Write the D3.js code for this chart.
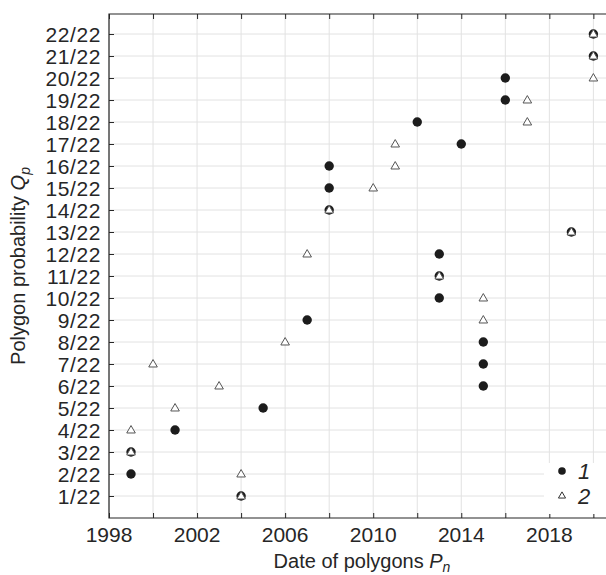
<!DOCTYPE html>
<html>
<head>
<meta charset="utf-8">
<script src="https://cdn.jsdelivr.net/npm/d3@7"></script>
<style>
 body { margin: 0; background: #fff; }
 text { font-family: "Liberation Sans", Arial, sans-serif; fill: #262626; }
</style>
</head>
<body>
<svg id="chart" width="606" height="575"></svg>
<script>
// probability levels k/22 (k = 1..22)
var levels = d3.range(1, 23);
// series 1 (filled circles): year for each level k
var years1 = [2004, 1999, 1999, 2001, 2005, 2015, 2015, 2015, 2007, 2013, 2013,
              2013, 2019, 2008, 2008, 2008, 2014, 2012, 2016, 2016, 2020, 2020];
// series 2 (open triangles): year for each level k
var years2 = [2004, 2004, 1999, 1999, 2001, 2003, 2000, 2006, 2015, 2015, 2013,
              2007, 2019, 2008, 2010, 2011, 2011, 2017, 2017, 2020, 2020, 2020];
var xTicks = d3.range(1998, 2021, 2);
var xLabels = [1998, 2002, 2006, 2010, 2014, 2018];
var seriesNames = ['1', '2'];

var svg = d3.select('#chart');
// plot box (note: 'top' is reserved on window, so use plot* names)
var plotLeft = 109, plotRight = 611, plotTop = 14, plotBottom = 518;

var x = d3.scaleLinear().domain([1998, 2020.8]).range([plotLeft, plotRight]);
var y = d3.scaleLinear().domain([0, 22.91]).range([plotBottom, plotTop]);

var axisColor = '#262626';
var gridColor = '#e2e2e2';

// grid
var grid = svg.append('g').attr('class', 'grid');
grid.selectAll('.vgrid').data(xTicks).enter().append('line')
 .attr('x1', function(d) { return x(d); })
 .attr('x2', function(d) { return x(d); })
 .attr('y1', plotTop).attr('y2', plotBottom)
 .style('stroke', gridColor).style('stroke-width', '1px');
grid.selectAll('.hgrid').data(levels).enter().append('line')
 .attr('x1', plotLeft).attr('x2', plotRight)
 .attr('y1', function(d) { return y(d); })
 .attr('y2', function(d) { return y(d); })
 .style('stroke', gridColor).style('stroke-width', '1px');

// axes (ticks pointing inwards, box style)
var xBottom = svg.append('g').attr('transform', 'translate(0,' + plotBottom + ')')
 .call(d3.axisTop(x).tickValues(xTicks).tickSize(5).tickFormat(''));
var xTop = svg.append('g').attr('transform', 'translate(0,' + plotTop + ')')
 .call(d3.axisBottom(x).tickValues(xTicks).tickSize(5).tickFormat(''));
var yLeft = svg.append('g').attr('transform', 'translate(' + plotLeft + ',0)')
 .call(d3.axisRight(y).tickValues(levels).tickSize(5).tickFormat(''));
[xBottom, xTop, yLeft].forEach(function(a) {
 a.selectAll('path').remove();
 a.selectAll('line').style('stroke', axisColor).style('stroke-width', '1px');
});
svg.append('path')
 .attr('d', 'M' + plotRight + ',' + plotTop + 'H' + plotLeft + 'V' + plotBottom + 'H' + plotRight)
 .style('fill', 'none').style('stroke', axisColor).style('stroke-width', '1.2px');

// tick labels
svg.selectAll('.xlab').data(xLabels).enter().append('text')
 .attr('x', function(d) { return x(d); })
 .attr('y', 542)
 .attr('text-anchor', 'middle')
 .attr('font-size', 21)
 .text(function(d) { return d; });
svg.selectAll('.ylab').data(levels).enter().append('text')
 .attr('x', 101)
 .attr('y', function(d) { return y(d); })
 .attr('dy', '0.36em')
 .attr('text-anchor', 'end')
 .attr('font-size', 21)
 .attr('letter-spacing', '0.6px')
 .text(function(d) { return d + '/22'; });

// axis titles
var xt = svg.append('text')
 .attr('x', 362).attr('y', 568)
 .attr('text-anchor', 'middle')
 .attr('font-size', 20);
xt.append('tspan').text('Date of polygons ');
xt.append('tspan').attr('font-style', 'italic').text('P');
xt.append('tspan').attr('font-style', 'italic').attr('font-size', 14).attr('dy', 4).text('n');

var yt = svg.append('text')
 .attr('transform', 'translate(25,' + ((plotTop + plotBottom) / 2) + ') rotate(-90)')
 .attr('text-anchor', 'middle')
 .attr('font-size', 20);
yt.append('tspan').text('Polygon probability ');
yt.append('tspan').attr('font-style', 'italic').text('Q');
yt.append('tspan').attr('font-style', 'italic').attr('font-size', 14).attr('dy', 5).text('p');

// markers
var tri = d3.symbol().type(d3.symbolTriangle);
var pts = svg.append('g').attr('class', 'points');
pts.selectAll('.s1').data(levels).enter().append('circle')
 .attr('cx', function(d, i) { return x(years1[i]); })
 .attr('cy', function(d) { return y(d); })
 .attr('r', 4.7)
 .style('fill', '#1c1c1c');
pts.selectAll('.s2').data(levels).enter().append('path')
 .attr('d', tri.size(32)())
 .attr('transform', function(d, i) { return 'translate(' + x(years2[i]) + ',' + (y(d) + 0.5) + ')'; })
 .style('fill', '#fff')
 .style('stroke', '#555')
 .style('stroke-width', '1px');

// legend
var lg = svg.append('g').attr('class', 'legend');
lg.append('rect')
 .attr('x', 544).attr('y', 463).attr('width', 70).attr('height', 51)
 .style('fill', '#fff');
lg.append('circle').attr('cx', 562).attr('cy', 471).attr('r', 3.8).style('fill', '#1c1c1c');
lg.append('path').attr('d', tri.size(22)())
 .attr('transform', 'translate(562,496)')
 .style('fill', '#fff').style('stroke', '#333').style('stroke-width', '1px');
lg.selectAll('.ltxt').data(seriesNames).enter().append('text')
 .attr('x', 578)
 .attr('y', function(d, i) { return 471 + i * 25; })
 .attr('dy', '0.36em')
 .attr('font-size', 22)
 .attr('font-style', 'italic')
 .text(function(d) { return d; });
</script>
</body>
</html>
